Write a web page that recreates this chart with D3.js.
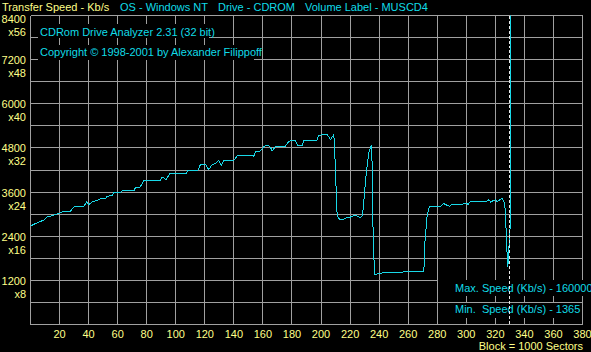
<!DOCTYPE html>
<html>
<head>
<meta charset="utf-8">
<script src="https://cdn.jsdelivr.net/npm/d3@7"></script>
<style>
  body { margin: 0; background: #000; }
  svg { display: block; }
  text { font-family: "Liberation Sans", Arial, sans-serif; font-size: 11px; }
</style>
</head>
<body>
<svg id="chart"></svg>
<script>
// block position (x1000 sectors) and transfer speed (Kb/s)
const blocks = [0, 2.3, 6.9, 9.2, 11.5, 13.8, 17.2, 20.2, 22.9, 27.5, 29.8, 36.7, 38.6, 40.1, 42.5, 45.9,
  48.2, 51.6, 52.8, 56.2, 57.3, 61.5, 63.1, 71.1, 72.3, 75.2, 78.0, 89.0, 90.7, 93.4, 95.9, 107.4,
  108.3, 115.2, 117.0, 120.5, 122.7, 125.1, 127.4, 129.6, 131.3, 133.1, 140.0, 142.3, 150.3, 153.7,
  154.9, 158.3, 160.6, 162.5, 164.7, 166.4, 168.7, 175.5, 176.7, 179.0, 182.4, 184.0, 187.0, 188.1,
  196.9, 198.5, 204.3, 206.5, 208.8, 209.5, 210.0, 210.7, 211.1, 212.9, 215.3, 216.8, 220.3, 222.6,
  224.9, 226.7, 228.3, 229.0, 229.9, 231.1, 232.2, 233.2, 234.1, 235.0, 235.4, 236.3, 236.8, 240.9,
  242.1, 255.9, 257.0, 270.8, 271.4, 272.4, 273.1, 274.7, 282.2, 284.5, 286.8, 288.4, 290.3, 297.2,
  299.0, 301.3, 302.9, 314.4, 315.5, 316.7, 320.1, 321.3, 322.4, 324.7, 326.3, 327.0, 327.5, 328.2,
  328.6, 330.3, 330.3, 330.3, 330.3];
const speeds = [2677, 2723, 2805, 2832, 2922, 2941, 2987, 3031, 3077, 3077, 3194, 3213, 3330, 3259, 3330, 3376,
  3423, 3423, 3485, 3513, 3575, 3575, 3630, 3630, 3722, 3722, 3902, 3902, 4011, 3940, 4103, 4103,
  4193, 4193, 4349, 4349, 4212, 4349, 4376, 4466, 4329, 4466, 4466, 4583, 4602, 4575,
  4692, 4719, 4828, 4874, 4847, 4719, 4847, 4847, 4920, 5010, 4991, 4874, 4874, 4991,
  4991, 5146, 5165, 5029, 5165, 4648, 4103, 3376, 2968, 2851, 2851, 2894, 2922, 2960,
  2949, 2905, 2949, 3150, 3559, 4103, 4466, 4719, 4828, 4874, 3194, 1969, 1365, 1381,
  1408, 1408, 1443, 1443, 2178, 2668, 2995, 3213, 3213, 3287, 3240, 3213, 3268, 3268,
  3303, 3268, 3357, 3357, 3395, 3330, 3395, 3330, 3376, 3423, 3303, 3058, 2423, 1833,
  1560, 2742, 4928, 7189, 1600000];

const discEnd = 329.5;
const speedTicks = [1200, 2400, 3600, 4800, 6000, 7200, 8400];
const blockTicks = d3.range(20, 381, 20);
const headerItems = [
  {label: 'Transfer Speed - Kb/s', x: 2, color: 'axis'},
  {label: 'OS - Windows NT', x: 120, color: 'info'},
  {label: 'Drive - CDROM', x: 218, color: 'info'},
  {label: 'Volume Label - MUSCD4', x: 305, color: 'info'}
];
const programLines = ['CDRom Drive Analyzer 2.31 (32 bit)', 'Copyright \u00a9 1998-2001 by Alexander Filippoff'];
const maxSpeed = 1600000;
const minSpeed = 1365;

const colors = {axis: '#ffff88', info: '#10dce8', grid: '#a0a0a0', line: '#18d8e8', marker: '#e8e8e8'};

class SpeedChart {
  constructor(_config) {
    this.config = {
      parentElement: _config.parentElement,
      containerWidth: _config.containerWidth || 591,
      containerHeight: _config.containerHeight || 352,
      margin: _config.margin || {top: 15.5, right: 8.5, bottom: 27.5, left: 30.5}
    };
    this.data = blocks.map((b, i) => ({block: b, speed: speeds[i]}));
    this.initVis();
  }

  initVis() {
    let vis = this;
    const m = vis.config.margin;
    vis.width = vis.config.containerWidth - m.left - m.right;
    vis.height = vis.config.containerHeight - m.top - m.bottom;

    vis.svg = d3.select(vis.config.parentElement)
      .attr('width', vis.config.containerWidth)
      .attr('height', vis.config.containerHeight);

    vis.svg.append('rect')
      .attr('width', vis.config.containerWidth)
      .attr('height', vis.config.containerHeight)
      .attr('fill', '#000');

    vis.xScale = d3.scaleLinear().domain([0, 380]).range([m.left, m.left + vis.width]);
    vis.yScale = d3.scaleLinear().domain([0, 8400]).range([m.top + vis.height, m.top]);

    vis.svg.append('clipPath').attr('id', 'plot-clip')
      .append('rect')
      .attr('x', m.left).attr('y', m.top)
      .attr('width', vis.width).attr('height', vis.height);

    vis.renderVis();
  }

  renderVis() {
    let vis = this;
    const x = vis.xScale, y = vis.yScale;
    const [x0, x1] = x.range();
    const [y0, y1] = y.range();

    // grid: one line every 600 Kb/s and every 20 blocks
    const grid = vis.svg.append('g')
      .attr('stroke', colors.grid)
      .attr('shape-rendering', 'crispEdges');
    grid.selectAll('.hgrid')
      .data(d3.range(0, 8401, 600))
      .join('line')
      .attr('x1', x0).attr('x2', x1)
      .attr('y1', d => y(d)).attr('y2', d => y(d));
    grid.selectAll('.vgrid')
      .data(d3.range(0, 381, 20))
      .join('line')
      .attr('y1', y0).attr('y2', y1)
      .attr('x1', d => x(d)).attr('x2', d => x(d));

    // speed labels with CD multiplier below
    const yLab = vis.svg.append('g').attr('fill', colors.axis).attr('text-anchor', 'end');
    yLab.selectAll('.val')
      .data(speedTicks)
      .join('text')
      .attr('x', 26)
      .attr('y', d => Math.max(y(d), 18) + 4.5)
      .text(d => d);
    yLab.selectAll('.mul')
      .data(speedTicks)
      .join('text')
      .attr('x', 26)
      .attr('y', d => Math.max(y(d), 18) + 17.5)
      .text(d => 'x' + d / 150);

    vis.svg.append('g').attr('fill', colors.axis).attr('text-anchor', 'middle')
      .selectAll('text')
      .data(blockTicks)
      .join('text')
      .attr('x', d => x(d))
      .attr('y', 338)
      .text(d => d);

    vis.svg.append('text')
      .attr('fill', colors.axis)
      .attr('text-anchor', 'end')
      .attr('x', 583).attr('y', 350)
      .text('Block = 1000 Sectors');

    // header line
    vis.svg.append('g').selectAll('text')
      .data(headerItems)
      .join('text')
      .attr('x', d => d.x).attr('y', 11)
      .attr('fill', d => colors[d.color])
      .text(d => d.label);

    // text boxes drawn over the grid
    const boxes = [
      {text: programLines[0], x: 38, y: 24, w: 171, h: 14, tx: 40, ty: 36},
      {text: programLines[1], x: 38, y: 45, w: 216, h: 15, tx: 40, ty: 56},
      {text: `Max. Speed (Kb/s) - ${maxSpeed}`, x: 438, y: 280, w: 153, h: 16, tx: 455, ty: 292},
      {text: `Min.  Speed (Kb/s) - ${minSpeed}`, x: 454, y: 303, w: 126, h: 15, tx: 455, ty: 313}
    ];
    const bg = vis.svg.append('g');
    bg.selectAll('rect')
      .data(boxes)
      .join('rect')
      .attr('x', d => d.x).attr('y', d => d.y)
      .attr('width', d => d.w).attr('height', d => d.h)
      .attr('fill', '#000');
    bg.selectAll('text')
      .data(boxes)
      .join('text')
      .attr('x', d => d.tx).attr('y', d => d.ty)
      .attr('fill', colors.info)
      .style('white-space', 'pre')
      .text(d => d.text);

    // transfer speed trace
    const line = d3.line()
      .x(d => x(d.block))
      .y(d => y(d.speed));
    vis.svg.append('path')
      .datum(vis.data)
      .attr('clip-path', 'url(#plot-clip)')
      .attr('fill', 'none')
      .attr('stroke', colors.line)
      .attr('stroke-width', 1)
      .attr('shape-rendering', 'crispEdges')
      .attr('d', line);

    // end of disc marker
    vis.svg.append('line')
      .attr('x1', x(discEnd)).attr('x2', x(discEnd))
      .attr('y1', y1).attr('y2', y0)
      .attr('stroke', colors.marker)
      .attr('stroke-dasharray', '3,2')
      .attr('shape-rendering', 'crispEdges');
  }
}

new SpeedChart({parentElement: '#chart'});
</script>
</body>
</html>
